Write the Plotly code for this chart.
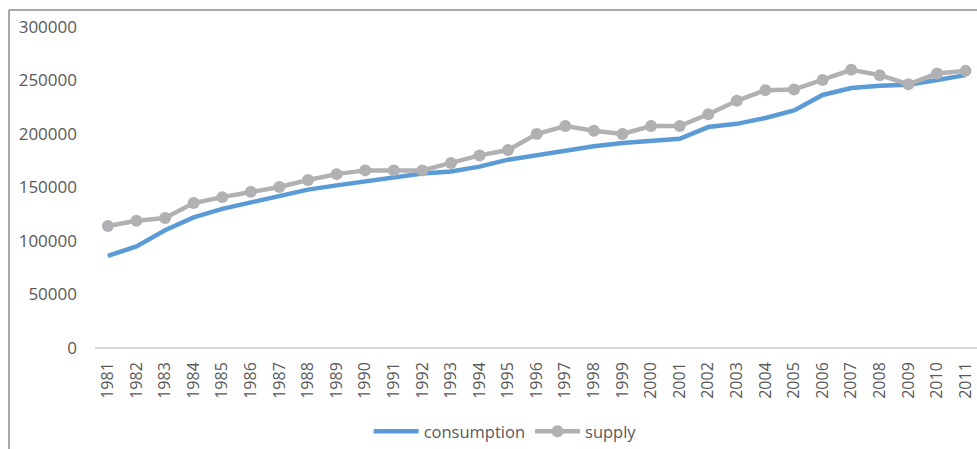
import plotly.graph_objects as go

years = [str(y) for y in range(1981, 2012)]
consumption = [86000, 95000, 110000, 122000, 130000, 136000, 143000, 148000, 152000, 156000,
               159000, 163000, 165000, 169500, 176000, 180500, 184000, 188500, 191500, 193500,
               195500, 206500, 209500, 215000, 222000, 236500, 243000, 245000, 246000, 250500, 255000]
supply = [114000, 119000, 121500, 135500, 141000, 146000, 150500, 157000, 162500, 166000,
          166000, 166000, 173000, 180000, 185000, 200000, 207500, 203000, 200000, 207500,
          207500, 218500, 231000, 241000, 241500, 250500, 260000, 255000, 246500, 256500, 259000]
y_ticks = [0, 50000, 100000, 150000, 200000, 250000, 300000]

fig = go.Figure()
fig.add_trace(go.Scatter(x=years, y=consumption, name="consumption", mode="lines",
                         line=dict(color="#5b9bd5", width=4.5)))
fig.add_trace(go.Scatter(x=years, y=supply, name="supply", mode="lines+markers",
                         line=dict(color="#b1b1b3", width=4.5),
                         marker=dict(color="#b1b1b3", size=12)))

fig.update_layout(
    width=977, height=449,
    margin=dict(l=95, r=0, t=27, b=101),
    paper_bgcolor="white", plot_bgcolor="white",
    font=dict(family="Open Sans, Lato, sans-serif", color="#595959", size=13),
    showlegend=True,
    legend=dict(orientation="h", x=0.465, xanchor="center", y=-0.262, yanchor="middle",
                font=dict(size=16.5, color="#595959"), itemwidth=45, tracegroupgap=0),
    xaxis=dict(type="category", range=[-0.45, 30.4], tickangle=-90, showgrid=False,
               showline=False, zeroline=False, ticks="", ticklabelstandoff=10,
               tickfont=dict(size=16)),
    yaxis=dict(range=[0, 300000], tickvals=y_ticks, ticktext=[str(v) for v in y_ticks],
               showgrid=False, zeroline=True, zerolinecolor="#d9d9d9", zerolinewidth=1.5,
               showline=False, ticks="", ticklabelstandoff=17, tickfont=dict(size=17)),
)

# chart-area frame (left and top edges visible in reference)
fig.add_shape(type="line", xref="paper", yref="paper", x0=-0.0975, x1=-0.0975, y0=-0.35, y1=1.053,
              line=dict(color="#8c8c8c", width=1.5))
fig.add_shape(type="line", xref="paper", yref="paper", x0=-0.0975, x1=1.01, y0=1.053, y1=1.053,
              line=dict(color="#8c8c8c", width=1.5))

fig.write_html("out.html", config={"displayModeBar": False},
               post_script="document.body.style.margin='0';document.body.style.overflow='hidden';")
